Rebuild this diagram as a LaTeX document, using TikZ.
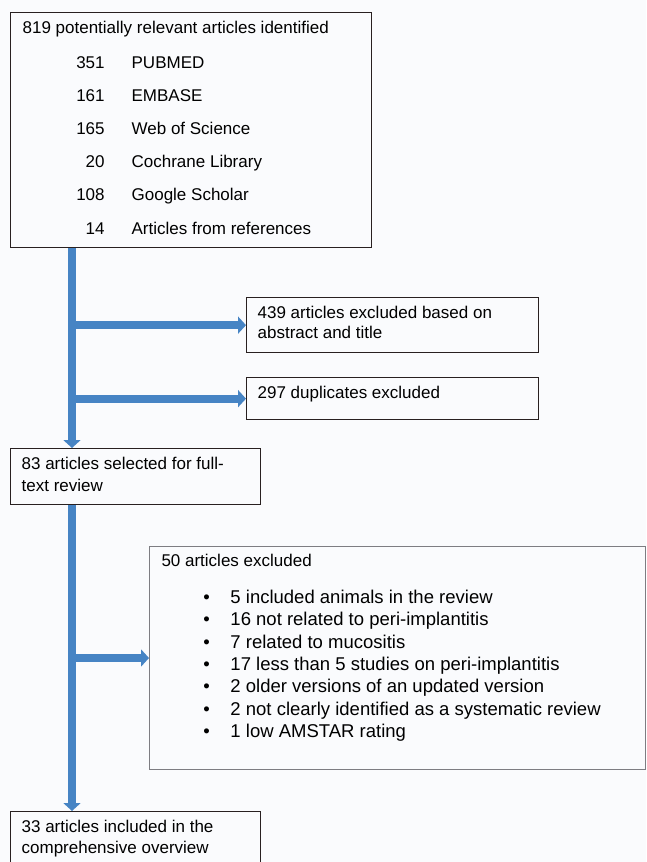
\documentclass[tikz,border=0pt]{standalone}
\usepackage{fontspec}
\setmainfont{Liberation Sans}
\usetikzlibrary{arrows.meta}
\definecolor{bg}{RGB}{250,251,253}
\definecolor{flowblue}{RGB}{70,132,196}
\definecolor{boxline}{RGB}{40,32,32}
\definecolor{greyline}{RGB}{125,125,130}
\newcommand\boxtxt[4]{\parbox[c][#2][t]{#1}{\raggedright\leftskip=#3\relax\rule{0pt}{20.4pt}#4}}
\newcommand\srcrow[2]{\makebox[109pt][l]{\makebox[82pt][r]{#1}}#2}
\newcommand\bul[1]{\makebox[69pt][l]{\hspace*{41.8pt}\textbullet}#1}
\tikzset{
  boxnode/.style={draw=boxline, line width=1.3pt, fill=bg, inner sep=0pt, anchor=north west,
    font=\fontsize{17pt}{21pt}\selectfont},
  greybox/.style={boxnode, draw=greyline, line width=1pt},
  flow/.style={draw=flowblue, line width=8pt, -{Triangle[width=17pt,length=8pt]}}
}
\begin{document}
\begin{tikzpicture}[x=1pt,y=-1pt]
\fill[bg] (0,0) rectangle (646,862);
\useasboundingbox (0,0) rectangle (646,862);
\coordinate (spine) at (72,0);

\node[boxnode] (src) at (10,12) {\boxtxt{361pt}{235pt}{12pt}{\fontsize{17pt}{33.2pt}\selectfont
  819 potentially relevant articles identified\\[1.8pt]
  \srcrow{351}{PUBMED}\\
  \srcrow{161}{EMBASE}\\
  \srcrow{165}{Web of Science}\\
  \srcrow{20}{Cochrane Library}\\
  \srcrow{108}{Google Scholar}\\
  \srcrow{14}{Articles from references}}};

\node[boxnode] (abs) at (246,297) {\boxtxt{292pt}{55pt}{11pt}{\fontsize{17pt}{20.7pt}\selectfont
  439 articles excluded based on\\ abstract and title}};

\node[boxnode] (dup) at (246,377) {\boxtxt{292pt}{42pt}{11pt}{297 duplicates excluded}};

\node[boxnode] (full) at (10,448) {\boxtxt{250pt}{56pt}{11pt}{\fontsize{17pt}{22pt}\selectfont
  83 articles selected for full-\\ text review}};

\node[greybox] (excl) at (149,546) {\boxtxt{496pt}{223pt}{12pt}{\fontsize{17pt}{22.4pt}\selectfont
  50 articles excluded\\[14pt]
  {\fontsize{18.5pt}{22.4pt}\selectfont
  \bul{5 included animals in the review}\\
  \bul{16 not related to peri-implantitis}\\
  \bul{7 related to mucositis}\\
  \bul{17 less than 5 studies on peri-implantitis}\\
  \bul{2 older versions of an updated version}\\
  \bul{2 not clearly identified as a systematic review}\\
  \bul{1 low AMSTAR rating}}}};

\node[boxnode] (incl) at (10,811) {\boxtxt{250pt}{54pt}{11pt}{\fontsize{17pt}{21pt}\selectfont
  33 articles included in the\\ comprehensive overview}};

\draw[flow] (src.south -| spine) -- (full.north -| spine);
\draw[flow] (abs.west -| spine) -- (abs.west);
\draw[flow] (dup.west -| spine) -- (dup.west);
\draw[flow] (full.south -| spine) -- (incl.north -| spine);
\draw[flow] (excl.west -| spine) -- (excl.west);
\end{tikzpicture}
\end{document}
